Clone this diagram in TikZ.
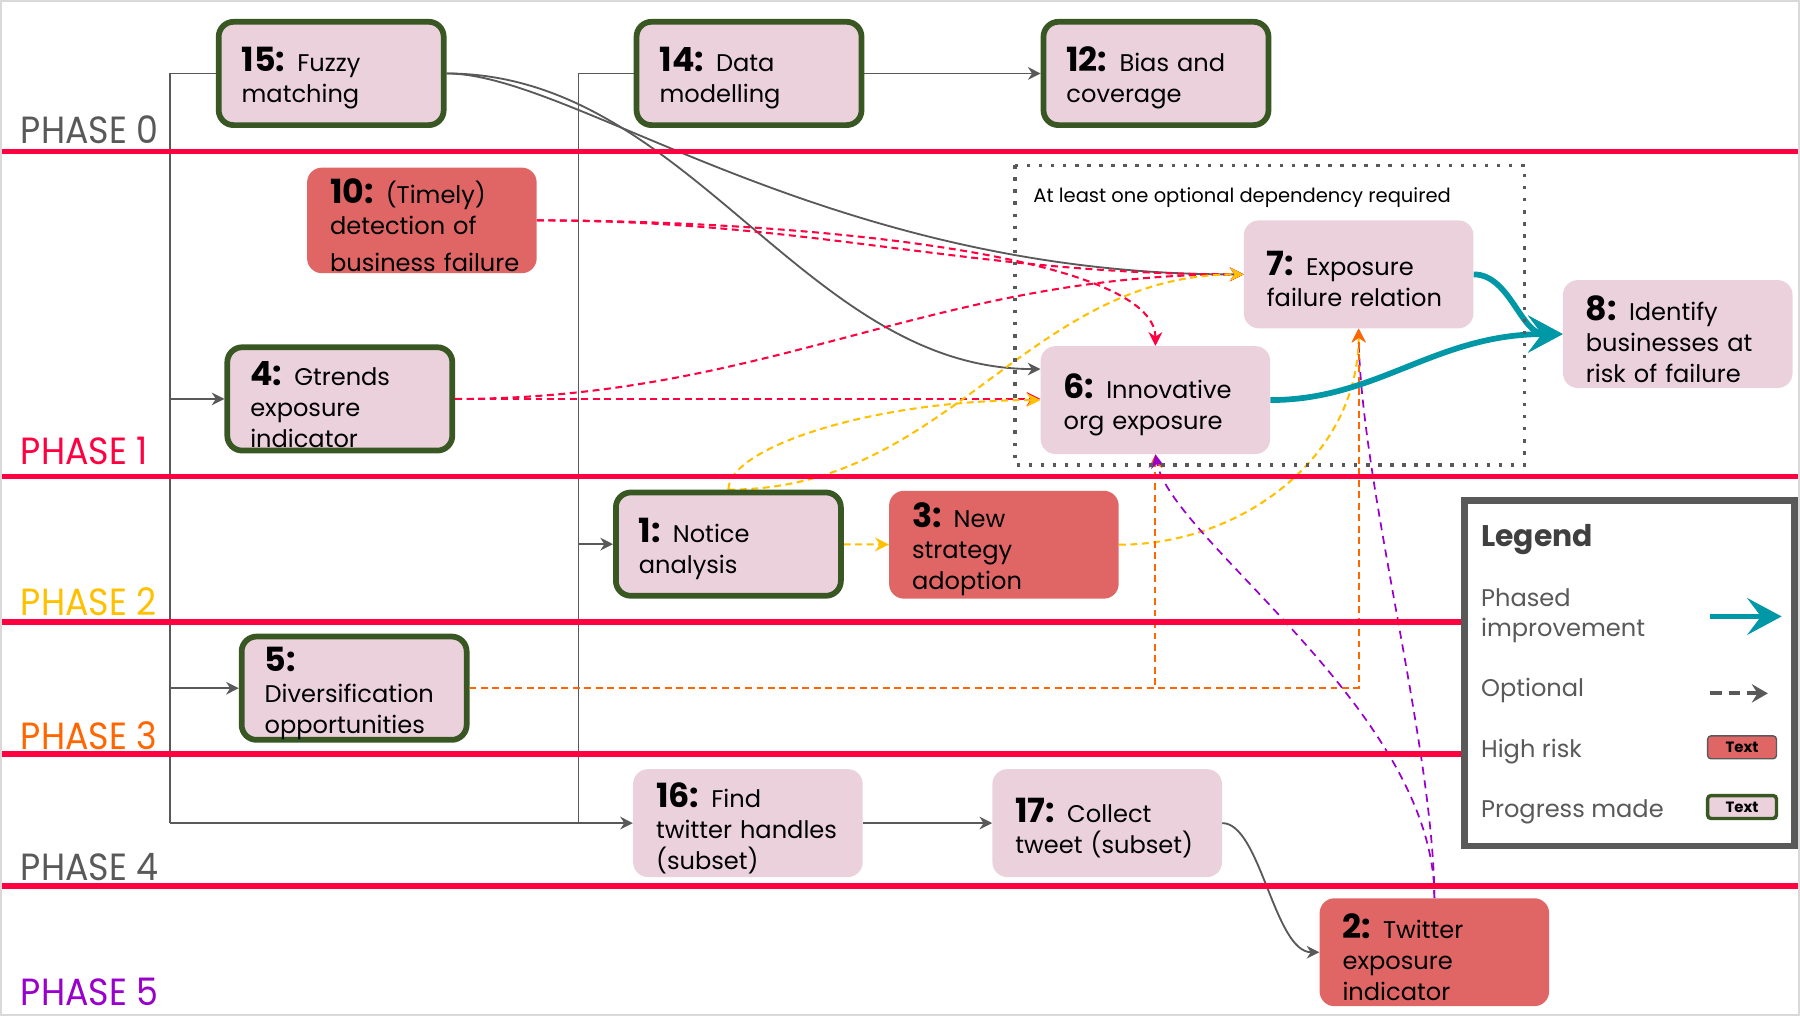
\documentclass[tikz,border=0pt]{standalone}
\usepackage{fontspec}
\setmainfont{Poppins}
\usetikzlibrary{arrows.meta,calc}
\definecolor{pinkfill}{RGB}{234,209,220}
\definecolor{redfill}{RGB}{224,102,102}
\definecolor{greenedge}{RGB}{56,87,35}
\definecolor{phasered}{RGB}{255,0,64}
\definecolor{amberc}{RGB}{255,192,0}
\definecolor{orangec}{RGB}{255,102,0}
\definecolor{purplec}{RGB}{153,0,204}
\definecolor{dgray}{RGB}{89,89,89}
\definecolor{tealc}{RGB}{0,151,167}
\newcommand\nb[1]{{\fontsize{29}{27}\selectfont\bfseries\rule{0pt}{30pt}#1}}
\hyphenpenalty=10000
\exhyphenpenalty=10000
\pgfdeclarelayer{connlayer}
\pgfdeclarelayer{linelayer}
\pgfsetlayers{connlayer,linelayer,main}
\tikzset{
  box/.style={rectangle, rounded corners=13pt, align=left, text width=160pt,
    minimum width=200pt, minimum height=94pt, inner xsep=20pt, inner ysep=0pt,
    font=\fontsize{21}{27}\selectfont},
  pinkbox/.style={box, fill=pinkfill},
  riskbox/.style={box, fill=redfill},
  donebox/.style={box, fill=pinkfill, draw=greenedge, line width=5pt,
    minimum width=196pt, minimum height=90pt, text width=156pt, inner xsep=20pt},
  phaselabel/.style={anchor=base west, inner sep=0pt, font=\fontsize{33}{33}\selectfont},
  phaseline/.style={phasered, line width=5pt},
  gline/.style={dgray, line width=1.6pt},
  gconn/.style={gline, -{Stealth[length=11pt,width=11pt,inset=3.5pt]}},
  opt/.style={line width=1.8pt, dash pattern=on 6pt off 4pt,
    -{Stealth[length=12pt,width=12pt,inset=4pt]}},
  tealarrow/.style={tealc, line width=5pt, -{Stealth[length=30pt,width=32pt,inset=12pt]}},
  legtext/.style={inner sep=0pt, text=dgray, font=\fontsize{21}{26}\selectfont, align=left},
  smallbox/.style={rectangle, rounded corners=3pt, minimum width=60pt, minimum height=20pt,
    inner sep=0pt, font=\fontsize{13}{13}\selectfont\bfseries}
}
\begin{document}
\begin{tikzpicture}[x=1pt,y=-1pt]
\useasboundingbox (0,0) rectangle (1568,885);

% phase lines and dotted group
\begin{pgfonlayer}{linelayer}
\foreach \yy/\xe in {132/1566,415/1566,542/1275,657/1275,772/1566}
  \draw[phaseline] (2,\yy) -- (\xe,\yy);
\draw[dgray, line width=3pt, dash pattern=on 3pt off 7.5pt] (884,144) rectangle (1328,405);
\end{pgfonlayer}

% phase labels
\node[phaselabel, text=dgray]     (p0) at (18,125) {\scalebox{0.92}[1]{PHASE 0}};
\node[phaselabel, text=phasered]  (p1) at (18,405) {\scalebox{0.92}[1]{PHASE 1}};
\node[phaselabel, text=amberc]    (p2) at (18,536) {\scalebox{0.92}[1]{PHASE 2}};
\node[phaselabel, text=orangec]   (p3) at (18,653) {\scalebox{0.92}[1]{PHASE 3}};
\node[phaselabel, text=dgray]     (p4) at (18,767) {\scalebox{0.92}[1]{PHASE 4}};
\node[phaselabel, text=purplec]   (p5) at (18,876) {\scalebox{0.92}[1]{PHASE 5}};

\node[anchor=base west, inner sep=0pt, font=\fontsize{17}{17}\selectfont] (grp) at (900,176)
  {At least one optional dependency required};

% nodes
\node[donebox] (n15) at (288.5,64) {\nb{15:} Fuzzy\\matching};
\node[donebox] (n14) at (652.5,64) {\nb{14:} Data\\modelling};
\node[donebox] (n12) at (1007,64) {\nb{12:} Bias~and\\coverage};
\node[riskbox, minimum height=92pt] (n10) at (367.5,192) {\nb{10:} (Timely)\\detection~of\\[6pt]business~failure};
\node[donebox] (n4) at (296,347.5) {\nb{4:} Gtrends\\exposure\\indicator};
\node[pinkbox] (n7) at (1183.5,239) {\nb{7:} Exposure\\failure~relation};
\node[pinkbox] (n6) at (1006.5,348.5) {\nb{6:} Innovative\\org~exposure};
\node[pinkbox] (n8) at (1461.5,291) {\nb{8:} Identify\\businesses~at\\risk~of~failure};
\node[donebox] (n1) at (634.5,474) {\nb{1:} Notice\\analysis};
\node[riskbox] (n3) at (874.5,474.5) {\nb{3:} New\\strategy\\adoption};
\node[donebox] (n5) at (308.5,599.5) {\nb{5:}\\Diversification\\opportunities};
\node[pinkbox] (n16) at (651.5,717) {\nb{16:} Find\\twitter~handles\\(subset)};
\node[pinkbox] (n17) at (964.5,717) {\nb{17:} Collect\\tweet~(subset)};
\node[riskbox] (n2) at (1249.5,829.5) {\nb{2:} Twitter\\exposure\\indicator};

\coordinate (tA) at (148,717);
\coordinate (tB) at (504,717);

\begin{pgfonlayer}{connlayer}
% solid grey dependencies
\draw[gline] (n15.west) -| (tA);
\draw[gconn] (tA) -- (n16.west);
\draw[gconn] (tA |- n4.west) -- (n4.west);
\draw[gconn] (tA |- n5.west) -- (n5.west);
\draw[gline] (n14.west) -| (tB);
\draw[gconn] (tB |- n1.west) -- (n1.west);
\draw[gconn] (n14) -- (n12);
\draw[gconn] (n16) -- (n17);
\draw[gconn] (n17.east) .. controls (1098,717) and (1110,829.5) .. (n2.west);
\draw[gconn] (n15.east) .. controls (500,64) and (720,240) .. (n7.west);
\draw[gconn] (n15.east) .. controls (600,64) and (700,321.5) .. ($(n6.west)+(0,-27)$);

% red optional
\draw[opt, phasered] (n10.east) .. controls (709,192) and (842,239) .. (n7.west);
\draw[opt, phasered] (n10.east) .. controls (700,192) and (1006.5,222) .. (n6.north);
\draw[opt, phasered] (n4.east) .. controls (669,347.5) and (812,239) .. (n7.west);
\draw[opt, phasered] (n4.east) -- (n4.east -| n6.west);

% amber optional
\draw[opt, amberc] (n1.north) .. controls (634.5,390) and (760,348.5) .. (n6.west);
\draw[opt, amberc] (n1.north) .. controls (826,427) and (894,239) .. (n7.west);
\draw[opt, amberc] (n1) -- (n3);
\draw[opt, purplec, dash pattern=on 7pt off 5pt, line width=1.5pt] (n2.north) .. controls (1249,650) and (1185,420) .. (n7.south);
\draw[opt, amberc] (n3.east) .. controls (1083,474.5) and (1183.5,397) .. (n7.south);

% orange optional
\draw[opt, orangec] (n5.east) -| (n7.south);
\draw[opt, orangec] (n5.east) -| (n6.south);

% purple optional
\draw[opt, purplec, dash pattern=on 7pt off 5pt, line width=1.5pt] (n2.north) .. controls (1250,620) and (1020,470) .. (n6.south);

% phased improvement
\draw[tealarrow] (n7.east) .. controls (1315,239) and (1325,291) .. (n8.west);
\draw[tealarrow] (n6.east) .. controls (1200,348.5) and (1250,291) .. (n8.west);
\end{pgfonlayer}

% legend
\draw[dgray, line width=6pt, fill=white] (1276,436) rectangle (1563,737);
\node[anchor=base west, inner sep=0pt, text=black!75, font=\fontsize{26}{26}\selectfont\bfseries] (lg) at (1290,476) {Legend};
\node[legtext, anchor=west] (lg1) at (1290,536) {Phased\\improvement};
\node[legtext, anchor=base west] (lg2) at (1290,607) {Optional};
\node[legtext, anchor=base west] (lg3) at (1290,660) {High risk};
\node[legtext, anchor=base west] (lg4) at (1290,712) {Progress made};
\coordinate (la1) at (1490,537);
\coordinate (la2) at (1552,537);
\draw[tealarrow] (la1) -- (la2);
\coordinate (lo1) at (1490,604);
\coordinate (lo2) at (1540,604);
\draw[dgray, line width=3.5pt, dash pattern=on 10pt off 6pt,
  -{Stealth[length=14pt,width=16pt,inset=5pt]}] (lo1) -- (lo2);
\node[smallbox, fill=redfill, draw=dgray, line width=1.2pt] (lr) at (1517.5,651) {Text};
\node[smallbox, fill=pinkfill, draw=greenedge, line width=3pt] (lp) at (1517.5,703) {Text};

% outer frame
\draw[black!15, line width=1.5pt] (0.75,0.75) rectangle (1567.25,884.25);
\end{tikzpicture}
\end{document}
